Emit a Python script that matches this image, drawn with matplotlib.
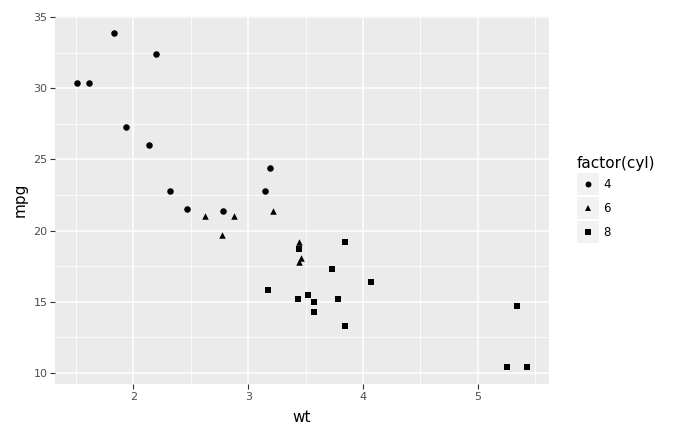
import numpy as np
import matplotlib.pyplot as plt
from matplotlib.patches import Rectangle
from matplotlib.lines import Line2D

# mtcars
wt = [2.620, 2.875, 2.320, 3.215, 3.440, 3.460, 3.570, 3.190, 3.150, 3.440, 3.440,
      4.070, 3.730, 3.780, 5.250, 5.424, 5.345, 2.200, 1.615, 1.835, 2.465, 3.520,
      3.435, 3.840, 3.845, 1.935, 2.140, 1.513, 3.170, 2.770, 3.570, 2.780]
mpg = [21.0, 21.0, 22.8, 21.4, 18.7, 18.1, 14.3, 24.4, 22.8, 19.2, 17.8,
       16.4, 17.3, 15.2, 10.4, 10.4, 14.7, 32.4, 30.4, 33.9, 21.5, 15.5,
       15.2, 13.3, 19.2, 27.3, 26.0, 30.4, 15.8, 19.7, 15.0, 21.4]
cyl = [6, 6, 4, 6, 8, 6, 8, 4, 4, 6, 6, 8, 8, 8, 8, 8, 8, 4, 4, 4, 4, 8,
       8, 8, 8, 4, 4, 4, 8, 6, 8, 4]
cyl_levels = [4, 6, 8]
markers = {4: 'o', 6: '^', 8: 's'}

wt = np.array(wt)
mpg = np.array(mpg)
cyl = np.array(cyl)

fig = plt.figure(figsize=(6.82, 4.36), dpi=100)
W, H = 682, 436
ax = fig.add_axes([55 / W, 1 - 384 / H, (549 - 55) / W, (384 - 16) / H])
ax.set_facecolor('#ebebeb')
for s in ax.spines.values():
    s.set_visible(False)

for c in cyl_levels:
    m = cyl == c
    ax.scatter(wt[m], mpg[m], marker=markers[c], s=22, c='black', linewidths=0, zorder=3)

ax.margins(0.05)
ax.set_xticks([2, 3, 4, 5])
ax.set_yticks([10, 15, 20, 25, 30, 35])
ax.set_xticks(np.arange(1.5, 6, 1), minor=True)
ax.set_yticks(np.arange(12.5, 35, 5), minor=True)
ax.grid(which='major', color='white', lw=1.1, zorder=0)
ax.grid(which='minor', color='white', lw=0.55, zorder=0)
ax.set_axisbelow(True)
ax.tick_params(which='major', length=3.5, width=0.8, color='#333333',
               labelcolor='#4d4d4d', labelsize=8, pad=2)
ax.tick_params(which='minor', length=0)
ax.set_xlabel('wt', fontsize=11, labelpad=6)
ax.set_ylabel('mpg', fontsize=11, labelpad=4)

# legend
fig.text(577 / W, 1 - 168 / H, 'factor(cyl)', fontsize=11, ha='left', va='baseline')
for i, c in enumerate(cyl_levels):
    top = 173 + i * 24
    fig.patches.append(Rectangle((577 / W, 1 - (top + 22) / H), 22 / W, 22 / H,
                                 transform=fig.transFigure, facecolor='#f2f2f2',
                                 edgecolor='none'))
    fig.add_artist(Line2D([588 / W], [1 - (top + 11) / H], marker=markers[c],
                          color='black', markersize=4.3, markeredgewidth=0,
                          linestyle='none', transform=fig.transFigure))
    fig.text(603 / W, 1 - (top + 11) / H, str(c), fontsize=8.5, ha='left', va='center')

fig.savefig('out.png', dpi=100)
